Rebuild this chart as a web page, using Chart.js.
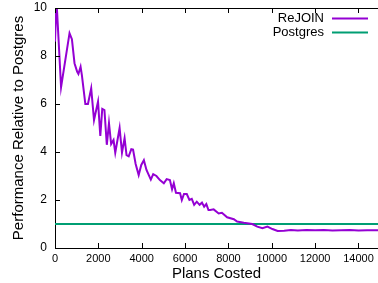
<!DOCTYPE html>
<html>
<head>
<meta charset="utf-8">
<script src="https://cdn.jsdelivr.net/npm/chart.js@4"></script>
<style>
  html, body { margin: 0; padding: 0; background: #fff; overflow: hidden; }
</style>
</head>
<body>
<canvas id="chart" width="378" height="283"></canvas>
<script>
// values
const plans = [0, 70, 280, 670, 780, 900, 1020, 1080, 1180, 1240, 1400, 1520, 1670, 1800, 1985,
  2090, 2180, 2280, 2390, 2490, 2590, 2700, 2780, 2980, 3090, 3210, 3300, 3400, 3520, 3600,
  3720, 3860, 3980, 4100, 4220, 4420, 4530, 4680, 4840, 5020, 5150, 5300, 5400, 5480, 5580,
  5770, 5850, 5950, 6080, 6200, 6310, 6420, 6540, 6670, 6780, 6880, 6980, 7080, 7160, 7320,
  7550, 7700, 7940, 8250, 8400, 8710, 9100, 9330, 9570, 9800, 10030, 10270, 10570, 10880,
  11200, 11600, 12000, 12400, 12800, 13200, 13600, 14000, 14400, 14900];
const rejoin = [8.6, 10.3, 6.7, 8.95, 8.7, 7.7, 7.35, 7.25, 7.55, 7.2, 6.0, 6.0, 6.65, 5.33, 6.1,
  4.67, 5.8, 5.75, 4.3, 5.2, 4.33, 4.5, 3.97, 5.0, 3.97, 4.58, 3.87, 3.82, 4.12, 4.1,
  3.5, 3.04, 3.46, 3.66, 3.25, 2.85, 3.08, 3.0, 2.83, 2.7, 2.87, 2.83, 2.45, 2.7, 2.3,
  2.28, 2.0, 2.25, 2.25, 2.0, 2.05, 1.8, 1.93, 1.8, 1.89, 1.72, 1.83, 1.58, 1.58, 1.61,
  1.44, 1.47, 1.28, 1.2, 1.1, 1.05, 1.0, 0.89, 0.82, 0.89, 0.79, 0.71, 0.72, 0.75,
  0.73, 0.75, 0.74, 0.75, 0.73, 0.74, 0.75, 0.73, 0.74, 0.74];
const postgresPlans = [0, 14900];
const postgres = [1, 1];
const xTicks = [0, 2000, 4000, 6000, 8000, 10000, 12000, 14000];
const yTicks = [0, 2, 4, 6, 8, 10];
const seriesNames = ['ReJOIN', 'Postgres'];
const seriesColors = ['#9400d3', '#009e73'];

const FONT = '"Liberation Sans", Arial, sans-serif';

// gnuplot-ish frame: top border, inward ticks, legend inside top right
const framePlugin = {
  id: 'frame',
  afterDraw(chart) {
    const ctx = chart.ctx;
    const a = chart.chartArea;
    const xs = chart.scales.x, ys = chart.scales.y;
    ctx.save();
    ctx.strokeStyle = '#000';
    ctx.lineWidth = 1;
    ctx.beginPath();
    ctx.moveTo(a.left, Math.round(a.top) + 0.5);
    ctx.lineTo(a.right, Math.round(a.top) + 0.5);
    xTicks.forEach(v => {
      const px = Math.round(xs.getPixelForValue(v)) + 0.5;
      ctx.moveTo(px, a.bottom);
      ctx.lineTo(px, a.bottom - 5);
      ctx.moveTo(px, a.top);
      ctx.lineTo(px, a.top + 5);
    });
    yTicks.forEach(v => {
      const py = Math.round(ys.getPixelForValue(v)) + 0.5;
      ctx.moveTo(a.left, py);
      ctx.lineTo(a.left + 5, py);
    });
    ctx.stroke();

    // legend
    ctx.font = '13px ' + FONT;
    ctx.fillStyle = '#000';
    ctx.textAlign = 'right';
    ctx.textBaseline = 'middle';
    seriesNames.forEach((name, i) => {
      const y = 18 + i * 14;
      ctx.fillText(name, 324, y);
      ctx.strokeStyle = seriesColors[i];
      ctx.lineWidth = 2;
      ctx.beginPath();
      ctx.moveTo(332, y + 0.5);
      ctx.lineTo(368, y + 0.5);
      ctx.stroke();
    });
    ctx.restore();
  }
};

new Chart(document.getElementById('chart'), {
  type: 'line',
  data: {
    datasets: [
      {
        label: seriesNames[0],
        data: plans.map((p, i) => ({ x: p, y: rejoin[i] })),
        borderColor: seriesColors[0],
        borderWidth: 2,
        pointRadius: 0,
        tension: 0
      },
      {
        label: seriesNames[1],
        data: postgresPlans.map((p, i) => ({ x: p, y: postgres[i] })),
        borderColor: seriesColors[1],
        borderWidth: 2,
        pointRadius: 0
      }
    ]
  },
  options: {
    responsive: false,
    animation: false,
    layout: { padding: { top: 8, right: 0, left: 0, bottom: 0 } },
    plugins: { legend: { display: false }, tooltip: { enabled: false } },
    scales: {
      x: {
        type: 'linear',
        min: 0,
        max: 14900,
        afterBuildTicks: s => { s.ticks = xTicks.map(v => ({ value: v })); },
        grid: { display: false, drawTicks: false },
        border: { display: true, color: '#000', width: 1 },
        ticks: { color: '#000', font: { family: FONT, size: 11 }, padding: 4, maxRotation: 0, autoSkip: false,
                 callback: v => String(v) },
        title: { display: true, text: 'Plans Costed', color: '#000', font: { family: FONT, size: 15 }, padding: { top: 2, bottom: 0 } },
        afterFit: s => { s.height = 35; s.paddingLeft = 0; s.paddingRight = 0; }
      },
      y: {
        min: 0,
        max: 10,
        afterBuildTicks: s => { s.ticks = yTicks.map(v => ({ value: v })); },
        grid: { display: false, drawTicks: false },
        border: { display: true, color: '#000', width: 1 },
        ticks: { color: '#000', font: { family: FONT, size: 12 }, padding: 8, callback: v => String(v) },
        title: { display: true, text: 'Performance Relative to Postgres', color: '#000', font: { family: FONT, size: 15 }, padding: { top: 10, bottom: 4 } },
        afterFit: s => { s.width = 55; s.paddingTop = 0; s.paddingBottom = 0; }
      }
    }
  },
  plugins: [framePlugin]
});
</script>
</body>
</html>
